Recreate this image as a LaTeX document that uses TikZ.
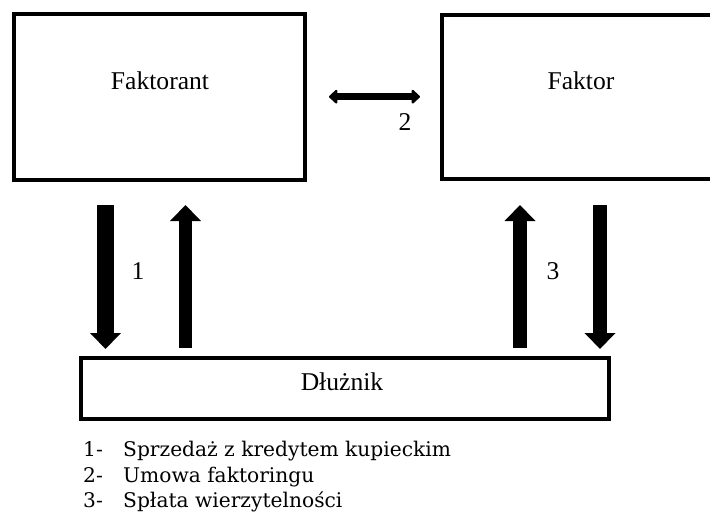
\documentclass[tikz,border=0pt]{standalone}
\usepackage{fontspec}
\setmainfont{Liberation Serif}
\newfontfamily\legendfont{DejaVu Serif}
\usetikzlibrary{arrows.meta}
\tikzset{
    box/.style={draw, line width=4pt, inner sep=0pt},
    boxtext/.style={font=\fontsize{25.6}{30}\selectfont, anchor=base},
    bigarrow/.style={line width=14pt, -{Triangle[width=30pt,length=16pt]}},
    linkarrow/.style={line width=7.5pt, {Triangle[width=16pt,length=9pt,round]}-{Triangle[width=16pt,length=9pt,round]}},
    legendtext/.style={font=\legendfont\fontsize{20.2}{24}\selectfont, anchor=base west, inner sep=0pt}
}
\begin{document}
\begin{tikzpicture}[x=1pt,y=-1pt]
    \useasboundingbox (0,0) rectangle (710,517);

    \node[box, minimum width=291.5pt, minimum height=166.5pt] (faktorant) at (159.25,96.75) {};
    \node[box, minimum width=278pt,   minimum height=164pt]   (faktor)    at (581,96.5)     {};
    \node[box, minimum width=527.5pt, minimum height=61.5pt]  (dluznik)   at (344.75,388.25) {};

    \node[boxtext] (faktorantname) at (160,89)  {Faktorant};
    \node[boxtext] (faktorname)    at (581,89)  {Faktor};
    \node[boxtext] (dluznikname)   at (342,390) {Dłużnik};

    \coordinate (A1) at (105.5,205);
    \coordinate (A2) at (105.5,349);
    \coordinate (B1) at (185.5,348);
    \coordinate (B2) at (185.5,205);
    \coordinate (C1) at (520,348);
    \coordinate (C2) at (520,205);
    \coordinate (D1) at (600,205);
    \coordinate (D2) at (600,349);
    \coordinate (L) at (329,96.7);
    \coordinate (R) at (420,96.7);

    \draw[bigarrow, line width=17pt] (A1) -- (A2);
    \draw[bigarrow, line width=13pt] (B1) -- (B2);
    \foreach \s/\e in {C1/C2,D1/D2}
        \draw[bigarrow] (\s) -- (\e);
    \draw[linkarrow] (L) -- (R);

    \node[boxtext] (n1) at (138,279) {1};
    \node[boxtext] (n2) at (405,130) {2};
    \node[boxtext] (n3) at (553,279) {3};

    \foreach \i/\txt/\y in {1/Sprzedaż z kredytem kupieckim/456.5,
                            2/Umowa faktoringu/482,
                            3/Spłata wierzytelności/507.5} {
        \node[legendtext] (num\i) at (83,\y)  {\i-};
        \node[legendtext] (leg\i) at (123,\y) {\txt};
    }
\end{tikzpicture}
\end{document}
